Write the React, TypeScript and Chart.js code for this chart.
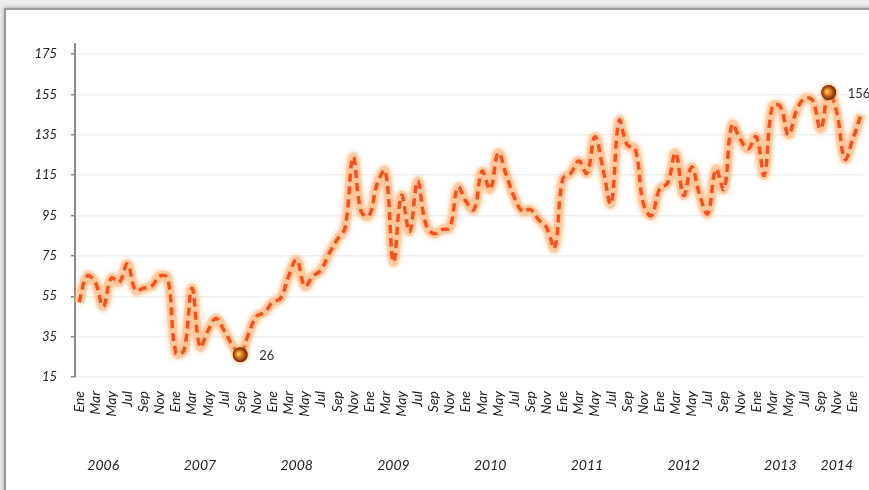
import React, { useEffect, useRef } from 'react';
import { Chart, registerables } from 'chart.js';

Chart.register(...registerables);

// ---- data ----
const monthNames = ['Ene', 'Feb', 'Mar', 'Abr', 'May', 'Jun', 'Jul', 'Ago', 'Sep', 'Oct', 'Nov', 'Dic'];
const years = ['2006', '2007', '2008', '2009', '2010', '2011', '2012', '2013', '2014'];

const values2006 = [52, 65, 62, 50, 64, 62, 71, 58, 59, 60, 65, 64];
const values2007 = [27, 28, 59, 30, 38, 44, 38, 31, 26, 36, 45, 47];
const values2008 = [52, 54, 65, 73, 60, 65, 68, 76, 83, 89, 124, 97];
const values2009 = [95, 111, 117, 72, 105, 87, 112, 91, 86, 88, 89, 109];
const values2010 = [102, 98, 117, 108, 126, 115, 104, 97, 98, 93, 89, 79];
const values2011 = [113, 116, 122, 116, 134, 118, 101, 142, 130, 128, 101, 95];
const values2012 = [108, 111, 126, 105, 119, 105, 96, 118, 108, 140, 133, 128];
const values2013 = [134, 115, 149, 149, 135, 147, 153, 152, 138, 156, 146, 123];
const values2014 = [133, 145];

const values = [
  ...values2006, ...values2007, ...values2008, ...values2009, ...values2010,
  ...values2011, ...values2012, ...values2013, ...values2014,
];

const categories: string[] = [];
years.forEach(() => monthNames.forEach((m) => categories.push(m)));
categories.length = values.length;

const yTicks = [15, 35, 55, 75, 95, 115, 135, 155, 175];
const yearLabels = years;
const yearLabelAnchors = [3, 15, 27, 39, 51, 63, 75, 87, 94];

const FONT = 'Lato, "Open Sans", sans-serif';

const decorations = {
  id: 'decorations',
  beforeDatasetDraw(chart: any, args: any) {
    if (args.index === 1) {
      const ctx = chart.ctx;
      ctx.save();
      ctx.shadowColor = 'rgba(252, 170, 100, 0.9)';
      ctx.shadowBlur = 5;
    }
  },
  afterDatasetDraw(chart: any, args: any) {
    if (args.index === 1) chart.ctx.restore();
  },
  afterDatasetsDraw(chart: any) {
    const ctx = chart.ctx as CanvasRenderingContext2D;
    const meta = chart.getDatasetMeta(0);
    const data = chart.data.datasets[0].data as number[];
    const minI = data.indexOf(Math.min(...data));
    const maxI = data.indexOf(Math.max(...data));
    [minI, maxI].forEach((i) => {
      const p = meta.data[i];
      const x = p.x, y = p.y;
      ctx.save();
      const glow = ctx.createRadialGradient(x, y, 5, x, y, 11);
      glow.addColorStop(0, 'rgba(250, 170, 90, 0.7)');
      glow.addColorStop(1, 'rgba(250, 170, 90, 0)');
      ctx.fillStyle = glow;
      ctx.beginPath();
      ctx.arc(x, y, 11, 0, Math.PI * 2);
      ctx.fill();
      const g = ctx.createRadialGradient(x - 2, y - 1, 0.5, x, y, 7.5);
      g.addColorStop(0, '#ffd060');
      g.addColorStop(0.35, '#e8861e');
      g.addColorStop(0.75, '#9a4410');
      g.addColorStop(1, '#5a2508');
      ctx.fillStyle = g;
      ctx.beginPath();
      ctx.arc(x, y, 7.5, 0, Math.PI * 2);
      ctx.fill();
      ctx.fillStyle = '#333';
      ctx.font = `13px ${FONT}`;
      ctx.textAlign = 'left';
      ctx.textBaseline = 'middle';
      ctx.fillText(String(data[i]), x + 19, y + 1);
      ctx.restore();
    });
  },
  afterDraw(chart: any) {
    const ctx = chart.ctx as CanvasRenderingContext2D;
    const xs = chart.scales.x;
    ctx.save();
    ctx.fillStyle = '#222';
    ctx.font = `italic 14px ${FONT}`;
    ctx.textAlign = 'center';
    ctx.textBaseline = 'middle';
    yearLabels.forEach((lab, k) => {
      ctx.fillText(lab, xs.getPixelForValue(yearLabelAnchors[k]), 465);
    });
    ctx.restore();
  },
};

export default function App() {
  const ref = useRef<HTMLCanvasElement | null>(null);

  useEffect(() => {
    if (!ref.current) return;
    const chart = new Chart(ref.current, {
      type: 'line',
      data: {
        labels: categories,
        datasets: [
          {
            data: values,
            borderColor: '#f4511e',
            borderWidth: 3.5,
            borderDash: [8, 5],
            tension: 0.4,
            pointRadius: 0,
            fill: false,
            order: 0,
          },
          {
            data: values,
            borderColor: 'rgba(253, 196, 150, 0.75)',
            borderWidth: 9,
            tension: 0.4,
            pointRadius: 0,
            fill: false,
            order: 1,
          },
        ],
      },
      options: {
        responsive: false,
        animation: false,
        devicePixelRatio: 1,
        layout: { padding: { left: 0, top: 44, right: 4, bottom: 0 } },
        plugins: { legend: { display: false }, tooltip: { enabled: false } },
        scales: {
          x: {
            type: 'category',
            offset: true,
            grid: { display: false, drawTicks: false },
            border: { display: false },
            afterFit: (s: any) => {
              s.height = 113;
              s.paddingLeft = 0;
              s.paddingRight = 0;
            },
            ticks: {
              autoSkip: false,
              minRotation: 90,
              maxRotation: 90,
              padding: 14,
              color: '#222',
              font: { family: FONT, size: 14, style: 'italic' },
              callback: (_v: any, idx: number) => (idx % 2 === 0 ? categories[idx] : ''),
            },
          },
          y: {
            min: 15,
            max: 180,
            afterBuildTicks: (s: any) => { s.ticks = yTicks.map((v) => ({ value: v })); },
            afterFit: (s: any) => {
              s.width = 75;
              s.paddingTop = 0;
              s.paddingBottom = 0;
            },
            grid: { color: '#eef1f1', lineWidth: 1.5, tickLength: 4, tickColor: '#888' },
            border: { display: true, color: '#8a8a8e', width: 2 },
            ticks: {
              padding: 14,
              color: '#222',
              font: { family: FONT, size: 13, style: 'italic' },
            },
          },
        },
      },
      plugins: [decorations],
    });
    return () => chart.destroy();
  }, []);

  return (
    <div style={{ position: 'fixed', left: 0, top: 0, width: 869, height: 490, background: '#ececec', overflow: 'hidden' }}>
      <div
        style={{
          position: 'absolute', left: 4, top: 8, width: 1000, height: 1000, background: '#fff',
          borderTop: '2px solid #9a9a9a', borderLeft: '2px solid #9a9a9a', boxShadow: '0 0 4px rgba(0,0,0,0.35)',
        }}
      />
      <canvas ref={ref} width={869} height={490} style={{ position: 'absolute', left: 0, top: 0 }} />
    </div>
  );
}
